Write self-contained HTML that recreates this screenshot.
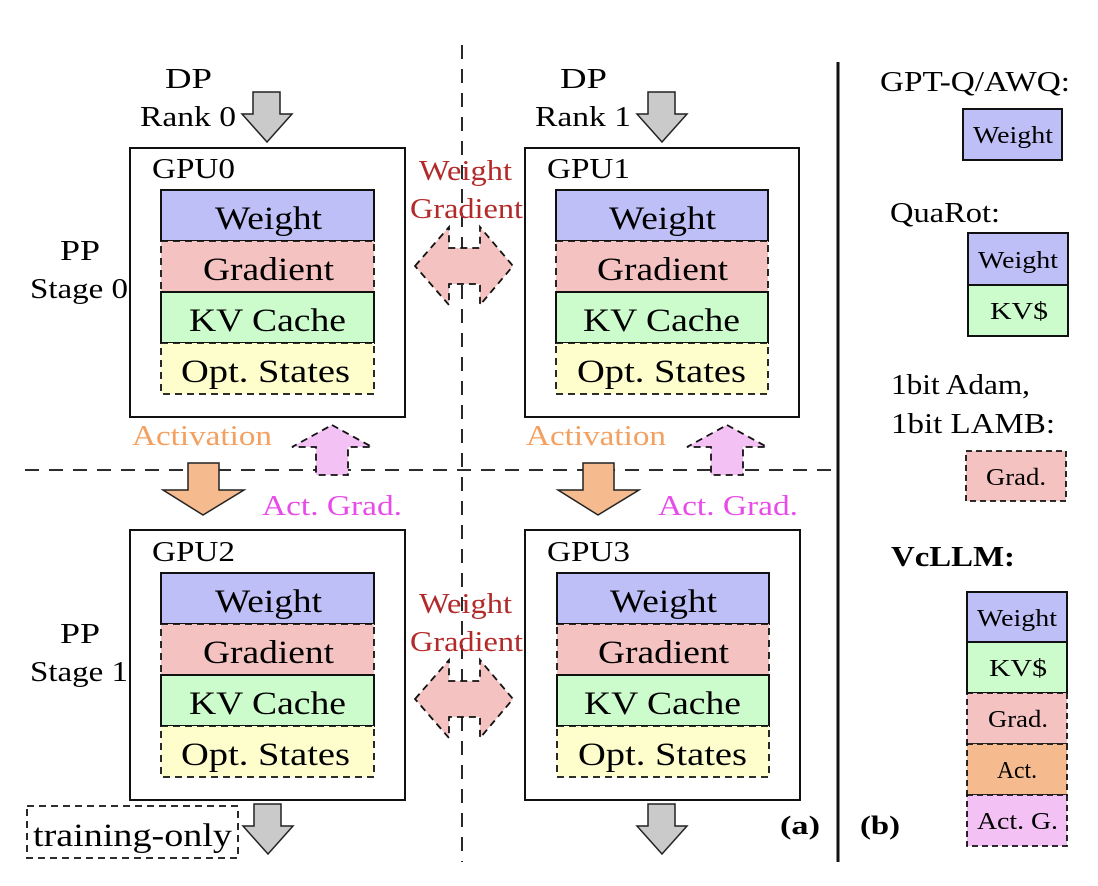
<!DOCTYPE html>
<html><head><meta charset="utf-8"><style>
html,body{margin:0;padding:0;background:#fff;}
svg{display:block;}
text{font-family:"Liberation Serif",serif;}
</style></head><body>
<svg width="1098" height="886" viewBox="0 0 1098 886" xmlns="http://www.w3.org/2000/svg">
<defs>
<g id="gray"><polygon points="-14,0 13,0 13,22 25,22 0,50 -25,22 -14,22" fill="#cacaca" stroke="#222" stroke-width="1.5"/></g>
<g id="bi"><polygon points="0,0 34,-39 34,-18 65,-18 65,-39 98,0 65,39 65,18 34,18 34,39" fill="#f4c2c0" stroke="#111" stroke-width="1.8" stroke-dasharray="7,5"/></g>
<g id="orange"><polygon points="-15,0 16,0 16,27 41,27 0,52 -40,27 -15,27" fill="#f5bb8e" stroke="#222" stroke-width="1.5"/></g>
<g id="pinkup"><polygon points="0,0 40,22 16,22 16,50 -16,50 -16,22 -40,22" fill="#f4c1f4" stroke="#111" stroke-width="1.8" stroke-dasharray="7,5"/></g>
</defs>

<line x1="462" y1="45" x2="462" y2="862" stroke="#111" stroke-width="1.8" stroke-dasharray="14,10"/>
<line x1="25" y1="470" x2="838" y2="470" stroke="#111" stroke-width="1.8" stroke-dasharray="14,10"/>
<line x1="838" y1="62" x2="838" y2="862" stroke="#111" stroke-width="3"/>

<g font-size="29" fill="#000" lengthAdjust="spacingAndGlyphs">
<text x="165" y="88" textLength="47" lengthAdjust="spacingAndGlyphs">DP</text>
<text x="140" y="126" textLength="96" lengthAdjust="spacingAndGlyphs">Rank 0</text>
<text x="560" y="88" textLength="47" lengthAdjust="spacingAndGlyphs">DP</text>
<text x="535" y="126" textLength="96" lengthAdjust="spacingAndGlyphs">Rank 1</text>
<text x="60" y="260" textLength="40" lengthAdjust="spacingAndGlyphs">PP</text>
<text x="30" y="298" textLength="98" lengthAdjust="spacingAndGlyphs">Stage 0</text>
<text x="60" y="643" textLength="40" lengthAdjust="spacingAndGlyphs">PP</text>
<text x="30" y="681" textLength="98" lengthAdjust="spacingAndGlyphs">Stage 1</text>
</g>
<use href="#gray" x="267" y="92"/>
<use href="#gray" x="662" y="92"/>

<g>
<rect x="130" y="148" width="275" height="269" fill="#fff" stroke="#111" stroke-width="2"/>
<text x="152" y="178" font-size="28" textLength="83" lengthAdjust="spacingAndGlyphs">GPU0</text>
<rect x="161" y="190" width="213" height="51" fill="#bfbff7" stroke="#111" stroke-width="2"/>
<rect x="161" y="241" width="213" height="51" fill="#f4c2c0" stroke="#111" stroke-width="1.8" stroke-dasharray="7,5"/>
<rect x="161" y="292" width="213" height="51" fill="#ccfccc" stroke="#111" stroke-width="2"/>
<rect x="161" y="343" width="213" height="51" fill="#fefecc" stroke="#111" stroke-width="1.8" stroke-dasharray="7,5"/>
<g font-size="33"><text x="215" y="229" textLength="107" lengthAdjust="spacingAndGlyphs">Weight</text><text x="203" y="280" textLength="131" lengthAdjust="spacingAndGlyphs">Gradient</text><text x="189" y="331" textLength="157" lengthAdjust="spacingAndGlyphs">KV Cache</text><text x="181" y="382" textLength="169" lengthAdjust="spacingAndGlyphs">Opt. States</text></g>
</g>
<g>
<rect x="525" y="148" width="274" height="269" fill="#fff" stroke="#111" stroke-width="2"/>
<text x="547" y="178" font-size="28" textLength="83" lengthAdjust="spacingAndGlyphs">GPU1</text>
<rect x="556" y="190" width="212" height="51" fill="#bfbff7" stroke="#111" stroke-width="2"/>
<rect x="556" y="241" width="212" height="51" fill="#f4c2c0" stroke="#111" stroke-width="1.8" stroke-dasharray="7,5"/>
<rect x="556" y="292" width="212" height="51" fill="#ccfccc" stroke="#111" stroke-width="2"/>
<rect x="556" y="343" width="212" height="51" fill="#fefecc" stroke="#111" stroke-width="1.8" stroke-dasharray="7,5"/>
<g font-size="33"><text x="609" y="229" textLength="107" lengthAdjust="spacingAndGlyphs">Weight</text><text x="597" y="280" textLength="131" lengthAdjust="spacingAndGlyphs">Gradient</text><text x="583" y="331" textLength="157" lengthAdjust="spacingAndGlyphs">KV Cache</text><text x="577" y="382" textLength="169" lengthAdjust="spacingAndGlyphs">Opt. States</text></g>
</g>
<g>
<rect x="130" y="530" width="275" height="270" fill="#fff" stroke="#111" stroke-width="2"/>
<text x="152" y="561" font-size="28" textLength="83" lengthAdjust="spacingAndGlyphs">GPU2</text>
<rect x="161" y="573" width="213" height="51" fill="#bfbff7" stroke="#111" stroke-width="2"/>
<rect x="161" y="624" width="213" height="51" fill="#f4c2c0" stroke="#111" stroke-width="1.8" stroke-dasharray="7,5"/>
<rect x="161" y="675" width="213" height="51" fill="#ccfccc" stroke="#111" stroke-width="2"/>
<rect x="161" y="726" width="213" height="51" fill="#fefecc" stroke="#111" stroke-width="1.8" stroke-dasharray="7,5"/>
<g font-size="33"><text x="215" y="612" textLength="107" lengthAdjust="spacingAndGlyphs">Weight</text><text x="203" y="663" textLength="131" lengthAdjust="spacingAndGlyphs">Gradient</text><text x="189" y="714" textLength="157" lengthAdjust="spacingAndGlyphs">KV Cache</text><text x="181" y="765" textLength="169" lengthAdjust="spacingAndGlyphs">Opt. States</text></g>
</g>
<g>
<rect x="525" y="530" width="275" height="270" fill="#fff" stroke="#111" stroke-width="2"/>
<text x="547" y="561" font-size="28" textLength="83" lengthAdjust="spacingAndGlyphs">GPU3</text>
<rect x="557" y="573" width="212" height="51" fill="#bfbff7" stroke="#111" stroke-width="2"/>
<rect x="557" y="624" width="212" height="51" fill="#f4c2c0" stroke="#111" stroke-width="1.8" stroke-dasharray="7,5"/>
<rect x="557" y="675" width="212" height="51" fill="#ccfccc" stroke="#111" stroke-width="2"/>
<rect x="557" y="726" width="212" height="51" fill="#fefecc" stroke="#111" stroke-width="1.8" stroke-dasharray="7,5"/>
<g font-size="33"><text x="610" y="612" textLength="107" lengthAdjust="spacingAndGlyphs">Weight</text><text x="598" y="663" textLength="131" lengthAdjust="spacingAndGlyphs">Gradient</text><text x="584" y="714" textLength="157" lengthAdjust="spacingAndGlyphs">KV Cache</text><text x="578" y="765" textLength="169" lengthAdjust="spacingAndGlyphs">Opt. States</text></g>
</g>

<g font-size="29" fill="#b22a2a">
<text x="419" y="180" textLength="93" lengthAdjust="spacingAndGlyphs">Weight</text><text x="410" y="218" textLength="113" lengthAdjust="spacingAndGlyphs">Gradient</text>
<text x="419" y="613" textLength="93" lengthAdjust="spacingAndGlyphs">Weight</text><text x="410" y="651" textLength="113" lengthAdjust="spacingAndGlyphs">Gradient</text>
</g>
<use href="#bi" x="415" y="266"/>
<use href="#bi" x="415" y="699"/>

<g font-size="29">
<text x="132" y="445" fill="#f4a060" textLength="140" lengthAdjust="spacingAndGlyphs">Activation</text>
<text x="526" y="445" fill="#f4a060" textLength="140" lengthAdjust="spacingAndGlyphs">Activation</text>
<text x="262" y="515" fill="#e84ce8" textLength="140" lengthAdjust="spacingAndGlyphs">Act. Grad.</text>
<text x="658" y="515" fill="#e84ce8" textLength="140" lengthAdjust="spacingAndGlyphs">Act. Grad.</text>
</g>
<use href="#orange" x="203" y="463"/>
<use href="#orange" x="598" y="463"/>
<use href="#pinkup" x="332" y="425"/>
<use href="#pinkup" x="727" y="425"/>

<rect x="27" y="806" width="211" height="52" fill="none" stroke="#111" stroke-width="1.8" stroke-dasharray="7,5"/>
<text x="33" y="846" font-size="33" textLength="199" lengthAdjust="spacingAndGlyphs">training-only</text>
<use href="#gray" x="268" y="804"/>
<use href="#gray" x="662" y="804"/>
<text x="780" y="834" font-size="26" font-weight="bold" textLength="40" lengthAdjust="spacingAndGlyphs">(a)</text>
<text x="860" y="834" font-size="26" font-weight="bold" textLength="40" lengthAdjust="spacingAndGlyphs">(b)</text>

<g font-size="28">
<text x="880" y="91" textLength="190" lengthAdjust="spacingAndGlyphs">GPT-Q/AWQ:</text>
<text x="890" y="222" textLength="110" lengthAdjust="spacingAndGlyphs">QuaRot:</text>
<text x="891" y="394" textLength="139" lengthAdjust="spacingAndGlyphs">1bit Adam,</text>
<text x="891" y="433" textLength="164" lengthAdjust="spacingAndGlyphs">1bit LAMB:</text>
<text x="891" y="566" font-weight="bold" textLength="124" lengthAdjust="spacingAndGlyphs">VcLLM:</text>
</g>
<g font-size="24">
<rect x="963" y="109" width="99" height="51" fill="#bfbff7" stroke="#111" stroke-width="2"/><text x="973" y="143" textLength="80" lengthAdjust="spacingAndGlyphs">Weight</text>
<rect x="968" y="233" width="100" height="52" fill="#bfbff7" stroke="#111" stroke-width="2"/><text x="978" y="268" textLength="80" lengthAdjust="spacingAndGlyphs">Weight</text>
<rect x="968" y="285" width="100" height="51" fill="#ccfccc" stroke="#111" stroke-width="2"/><text x="990" y="319" textLength="58" lengthAdjust="spacingAndGlyphs">KV$</text>
<rect x="966" y="451" width="100" height="50" fill="#f4c2c0" stroke="#111" stroke-width="1.8" stroke-dasharray="6,4"/><text x="986" y="485" textLength="60" lengthAdjust="spacingAndGlyphs">Grad.</text>
<rect x="967" y="592" width="100" height="50" fill="#bfbff7" stroke="#111" stroke-width="2"/><text x="977" y="626" textLength="80" lengthAdjust="spacingAndGlyphs">Weight</text>
<rect x="967" y="642" width="100" height="51" fill="#ccfccc" stroke="#111" stroke-width="2"/><text x="989" y="676" textLength="58" lengthAdjust="spacingAndGlyphs">KV$</text>
<rect x="967" y="693" width="100" height="51" fill="#f4c2c0" stroke="#111" stroke-width="1.8" stroke-dasharray="6,4"/><text x="988" y="727" textLength="60" lengthAdjust="spacingAndGlyphs">Grad.</text>
<rect x="967" y="744" width="100" height="51" fill="#f5bb8e" stroke="#111" stroke-width="1.8" stroke-dasharray="6,4"/><text x="997" y="778" textLength="40" lengthAdjust="spacingAndGlyphs">Act.</text>
<rect x="967" y="795" width="100" height="51" fill="#f4c1f4" stroke="#111" stroke-width="1.8" stroke-dasharray="6,4"/><text x="977" y="829" textLength="81" lengthAdjust="spacingAndGlyphs">Act. G.</text>
</g>
</svg>
</body></html>
